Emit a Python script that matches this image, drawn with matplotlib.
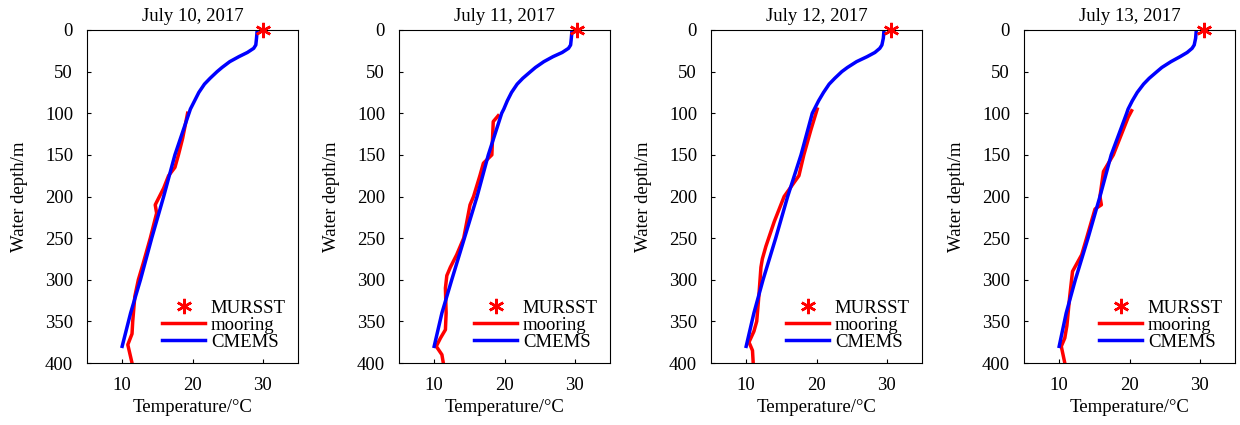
import numpy as np
import matplotlib
matplotlib.use('Agg')
import matplotlib.pyplot as plt

plt.rcParams['font.family'] = ['Liberation Serif', 'DejaVu Serif']
plt.rcParams['font.size'] = 13.5

# =========================
# Data
# =========================
dates = ['July 10, 2017', 'July 11, 2017', 'July 12, 2017', 'July 13, 2017']

mursst_temp = [30.0, 30.3, 30.6, 30.6]

cmems_depth = [0, 10, 18, 22, 27, 32, 38, 45, 50, 58, 65, 75, 85, 95, 100,
               150, 200, 250, 300, 340, 380]
cmems_temp = [
    [29.2, 29.1, 29.0, 28.7, 27.8, 26.6, 25.3, 24.2, 23.5, 22.5, 21.7, 20.9, 20.3, 19.7, 19.5,
     17.5, 15.9, 14.2, 12.6, 11.2, 10.0],
    [29.6, 29.5, 29.4, 29.1, 28.2, 26.9, 25.6, 24.4, 23.7, 22.6, 21.8, 21.0, 20.4, 19.9, 19.6,
     17.7, 16.1, 14.3, 12.5, 11.1, 10.0],
    [29.6, 29.5, 29.3, 29.0, 28.3, 27.2, 25.7, 24.4, 23.6, 22.6, 21.8, 21.0, 20.3, 19.7, 19.4,
     17.8, 15.9, 14.2, 12.4, 11.1, 10.0],
    [29.5, 29.4, 29.2, 28.9, 28.2, 27.2, 25.9, 24.6, 23.9, 22.8, 22.0, 21.1, 20.4, 19.8, 19.6,
     17.4, 15.8, 14.1, 12.3, 11.0, 10.0],
]

mooring_depth = [
    [100, 130, 150, 165, 175, 190, 210, 220, 250, 280, 300, 320, 350, 365, 378, 400],
    [103, 110, 150, 160, 175, 200, 210, 250, 270, 285, 295, 310, 340, 360, 370, 380, 390, 400],
    [95, 120, 150, 175, 200, 230, 260, 275, 285, 320, 350, 362, 375, 385, 400],
    [97, 105, 150, 170, 200, 210, 215, 250, 270, 290, 320, 355, 370, 380, 400],
]
mooring_temp = [
    [19.3, 18.6, 18.0, 17.5, 16.6, 15.9, 14.7, 14.9, 14.0, 13.0, 12.3, 11.8, 11.5, 11.4, 10.8, 11.4],
    [19.1, 18.4, 18.2, 17.0, 16.5, 15.6, 15.1, 14.2, 13.2, 12.3, 11.8, 11.6, 11.7, 11.6, 10.9, 10.3, 11.1, 11.3],
    [20.1, 19.2, 18.2, 17.5, 15.4, 14.0, 12.8, 12.3, 12.1, 11.8, 11.5, 11.1, 10.4, 10.9, 11.0],
    [20.3, 19.8, 17.7, 16.3, 15.8, 16.0, 15.1, 13.9, 13.2, 11.9, 11.5, 11.1, 10.8, 10.3, 10.8],
]

# =========================
# Plot
# =========================
fig = plt.figure(figsize=(12.4, 4.25), dpi=100)
lefts = [87, 399, 711, 1024]

for i in range(4):
    ax = fig.add_axes([lefts[i] / 1240, 62 / 425, 211 / 1240, 333 / 425])
    ax.plot(mursst_temp[i], 0, linestyle='none', marker=(6, 2, 0), color='red',
            markersize=11, markeredgewidth=1.8, label='MURSST', clip_on=False, zorder=5)
    ax.plot(mooring_temp[i], mooring_depth[i], color='red', linewidth=2.5, label='mooring')
    ax.plot(cmems_temp[i], cmems_depth, color='blue', linewidth=2.5, label='CMEMS')

    ax.set_xlim(5, 35)
    ax.set_ylim(400, 0)
    ax.set_xticks([10, 20, 30])
    ax.set_yticks(np.arange(0, 401, 50))
    ax.tick_params(direction='in', length=3, labelsize=13.5, pad=10, top=False, right=False)
    ax.set_title(dates[i], fontsize=13.5, pad=6.5)
    ax.set_xlabel('Temperature/°C', fontsize=13.5, labelpad=4)
    ax.set_ylabel('Water depth/m', fontsize=13.5, labelpad=12.5)
    ax.legend(loc='lower right', frameon=False, fontsize=13.5, handlelength=2.3,
              handletextpad=0.3, labelspacing=0.0, borderaxespad=0.25)

fig.savefig('out.png', dpi=100)
